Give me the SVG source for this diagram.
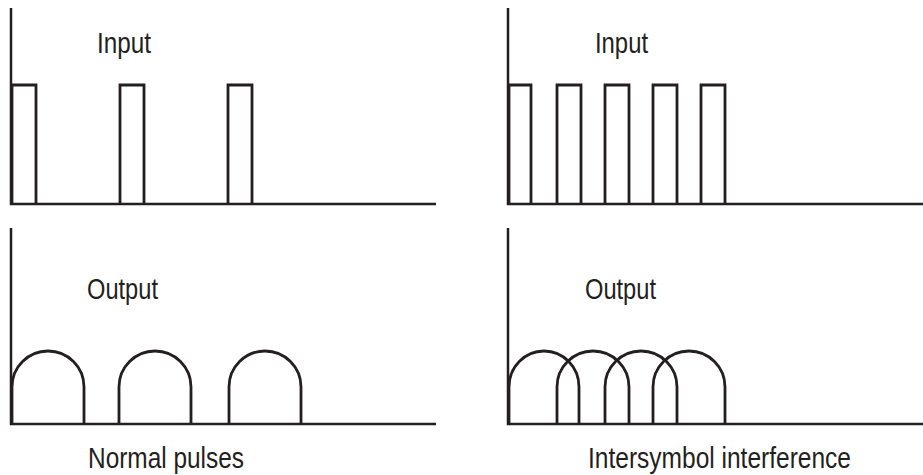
<svg xmlns="http://www.w3.org/2000/svg" width="923" height="475" viewBox="0 0 923 475">
<style>
.ax{fill:none;stroke:#231f20;stroke-width:2.5}
.p{fill:none;stroke:#231f20;stroke-width:2.8;stroke-linejoin:miter}
.t{font-family:"Liberation Sans",Arial,sans-serif;font-size:29px;fill:#231f20}
</style>
<rect width="923" height="475" fill="#fff"/>
<g id="input-normal">
<path class="ax" d="M11,8 V204 H436"/>
<path class="p" d="M12,204 V85 H36 V204 M120,204 V85 H144 V204 M228,204 V85 H252 V204"/>
<text class="t" x="97" y="53" textLength="54" lengthAdjust="spacingAndGlyphs">Input</text>
</g>
<g id="input-isi">
<path class="ax" d="M508,8 V204 H923"/>
<path class="p" d="M509,204 V85 H531 V204 M557,204 V85 H581 V204 M605,204 V85 H629 V204 M653,204 V85 H677 V204 M701,204 V85 H725 V204"/>
<text class="t" x="595" y="53" textLength="53" lengthAdjust="spacingAndGlyphs">Input</text>
</g>
<g id="output-normal">
<path class="ax" d="M11,228 V424 H436"/>
<path class="p" d="M12,424 V387 A36,36 0 0 1 84,387 V424 M119,424 V387 A36,36 0 0 1 191,387 V424 M229,424 V387 A36,36 0 0 1 301,387 V424"/>
<text class="t" x="87" y="299" textLength="71" lengthAdjust="spacingAndGlyphs">Output</text>
<text class="t" x="88" y="468" textLength="156" lengthAdjust="spacingAndGlyphs">Normal pulses</text>
</g>
<g id="output-isi">
<path class="ax" d="M508,228 V424 H923"/>
<path class="p" d="M509,424 V387 A35,36 0 0 1 579,387 V424 M557,424 V387 A36,36 0 0 1 629,387 V424 M605,424 V387 A36,36 0 0 1 677,387 V424 M653,424 V387 A36,36 0 0 1 725,387 V424"/>
<text class="t" x="585" y="299" textLength="71" lengthAdjust="spacingAndGlyphs">Output</text>
<text class="t" x="588" y="468" textLength="263" lengthAdjust="spacingAndGlyphs">Intersymbol interference</text>
</g>
</svg>
